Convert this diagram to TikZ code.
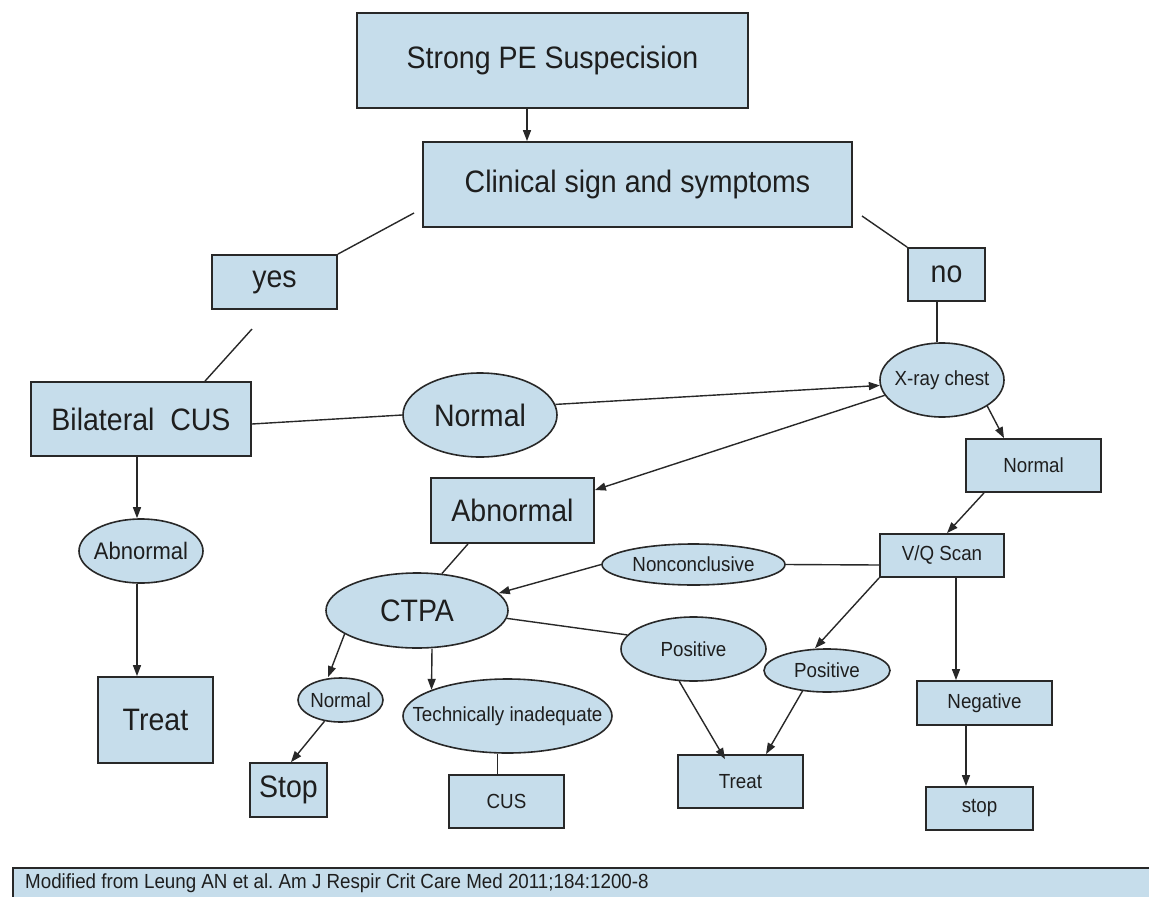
\documentclass[tikz,border=0pt]{standalone}
\usepackage{fontspec}
\setmainfont[FakeStretch=0.92]{Liberation Sans}
\usetikzlibrary{shapes.geometric,arrows.meta,calc}
\definecolor{boxfill}{RGB}{198,221,235}
\definecolor{edge}{RGB}{40,40,40}
\definecolor{ink}{RGB}{30,30,30}
\newcommand\zw[1]{\makebox[0pt]{#1}}
\frenchspacing
\tikzset{
  box/.style={draw=edge, line width=1.8pt, fill=boxfill, rectangle, inner sep=0pt, align=center, text=ink},
  ell/.style={draw=edge, line width=1.6pt, fill=boxfill, ellipse, inner sep=0pt, text=ink},
  big/.style={font=\fontsize{31}{33}\selectfont},
  small/.style={font=\fontsize{20.4}{22}\selectfont},
  conn/.style={draw=edge, line width=1.4pt},
  arr/.style={conn, -{Triangle[length=11pt,width=8pt]}}
}
\begin{document}
\begin{tikzpicture}[x=1pt,y=-1pt]
\useasboundingbox[fill=white] (0,0) rectangle (1149,897);

\node[box,big,minimum width=391,minimum height=95] (strong) at (552.5,60.5) {Strong PE Suspecision};
\node[box,big,minimum width=429,minimum height=85] (clin) at (637.5,184.5) {Clinical sign and symptoms};
\node[box,big,minimum width=125,minimum height=54] (yes) at (274.5,282) {yes};
\node[box,big,minimum width=77,minimum height=53] (no) at (946.5,274.5) {no};
\node[box,big,minimum width=220,minimum height=74] (bilat) at (141,419) {Bilateral\ \ CUS};
\node[ell,big,minimum width=154,minimum height=84] (normell) at (480,415) {\zw{Normal}};
\node[ell,small,minimum width=124,minimum height=74] (xray) at (942,380) {\zw{X-ray chest}};
\node[box,big,minimum width=163,minimum height=65] (abnbox) at (512.5,510.5) {Abnormal};
\node[box,small,minimum width=135,minimum height=53] (normbox) at (1033.5,465.5) {Normal};
\node[box,small,minimum width=124,minimum height=43] (vq) at (942,555.5) {V/Q Scan};
\node[ell,small,minimum width=183,minimum height=41] (noncon) at (693.5,564.5) {\zw{Nonconclusive}};
\node[ell,big,minimum width=182,minimum height=75] (ctpa) at (417,610.5) {\zw{CTPA}};
\node[ell,small,minimum width=145,minimum height=64] (pos1) at (693.5,649) {\zw{Positive}};
\node[ell,small,minimum width=126,minimum height=43] (pos2) at (827,670.5) {\zw{Positive}};
\node[box,small,minimum width=135,minimum height=44] (neg) at (984.5,703) {Negative};
\node[box,small,minimum width=107,minimum height=43] (stopr) at (979.5,808.5) {stop};
\node[box,small,minimum width=125,minimum height=53] (treatr) at (740.5,781.5) {Treat};
\node[ell,small,minimum width=85,minimum height=44] (normsm) at (340.5,700) {\zw{Normal}};
\node[box,big,minimum width=77,minimum height=54] (stopl) at (288.5,790) {Stop};
\node[ell,small,minimum width=209,minimum height=74] (tech) at (507.5,716) {\zw{Technically inadequate}};
\node[box,small,minimum width=115,minimum height=53] (cus) at (506.5,801.5) {CUS};
\node[ell,font=\fontsize{23.9}{25}\selectfont,minimum width=124,minimum height=64] (abnell) at (141,551) {\zw{Abnormal}};
\node[box,big,minimum width=115,minimum height=86] (treatl) at (155.5,720) {Treat};

\coordinate (c1) at (414,213);
\coordinate (c2) at (862,216);
\coordinate (c3) at (252,329);

\draw[arr] ([xshift=-25.5pt]strong.south) -- ([xshift=-25.5pt]strong.south |- clin.north);
\draw[conn] (c1) -- (yes.north east);
\draw[conn] (c2) -- (no.north west);
\draw[conn] ([xshift=-9.5pt]no.south) -- ([xshift=-9.5pt]no.south |- xray.north);
\draw[conn] (c3) -- ([xshift=64pt]bilat.north);
\draw[conn] ([yshift=-5pt]bilat.east) -- (normell.west);
\draw[arr] (normell.8) -- (xray.185);
\draw[arr] (xray.195) -- ([yshift=20.5pt]abnbox.east);
\draw[arr] (xray.-30) -- ([xshift=-29.5pt]normbox.north);
\draw[arr] ([xshift=-49.5pt]normbox.south) -- ([xshift=5pt]vq.north);
\draw[conn] ([yshift=-9.5pt]vq.west) -- (noncon.east);
\draw[arr] (noncon.west) -- (ctpa.12);
\draw[arr] (vq.south west) -- ([xshift=-12pt]pos2.north);
\draw[arr] ([xshift=14pt]vq.south) -- ([xshift=14pt]vq.south |- neg.north);
\draw[arr] ([xshift=-18.5pt]neg.south) -- ([xshift=-18.5pt]neg.south |- stopr.north);
\draw[conn] (ctpa.-5) -- (pos1.168);
\draw[arr] (pos1.-114) -- ([xshift=-15.5pt,yshift=-5pt]treatr.north);
\draw[arr] (pos2.-140) -- ([xshift=25.5pt]treatr.north);
\draw[arr] (ctpa.-162) -- ([xshift=-12.5pt]normsm.north);
\draw[arr] (normsm.-127) -- ([xshift=2.5pt]stopl.north);
\draw[arr] ([xshift=15pt]ctpa.south) -- (tech.161);
\draw[conn] ([xshift=-10pt]tech.south) -- ([xshift=-10pt]tech.south |- cus.north);
\draw[conn] ([xshift=-44.5pt]abnbox.south) -- (ctpa.56);
\draw[arr] ([xshift=-4pt]bilat.south) -- ([xshift=-4pt]bilat.south |- abnell.north);
\draw[arr] ([xshift=-4pt]abnell.south) -- ([xshift=-4pt]abnell.south |- treatl.north);

\fill[boxfill] (13,868) rectangle (1149,897);
\draw[edge,line width=1.8pt] (13,897) -- (13,868) -- (1149,868);
\node[small,text=ink,anchor=base west,inner sep=0pt] (foot) at (25,888) {Modified from Leung AN et al. Am J Respir Crit Care Med 2011;184:1200-8};
\end{tikzpicture}
\end{document}
